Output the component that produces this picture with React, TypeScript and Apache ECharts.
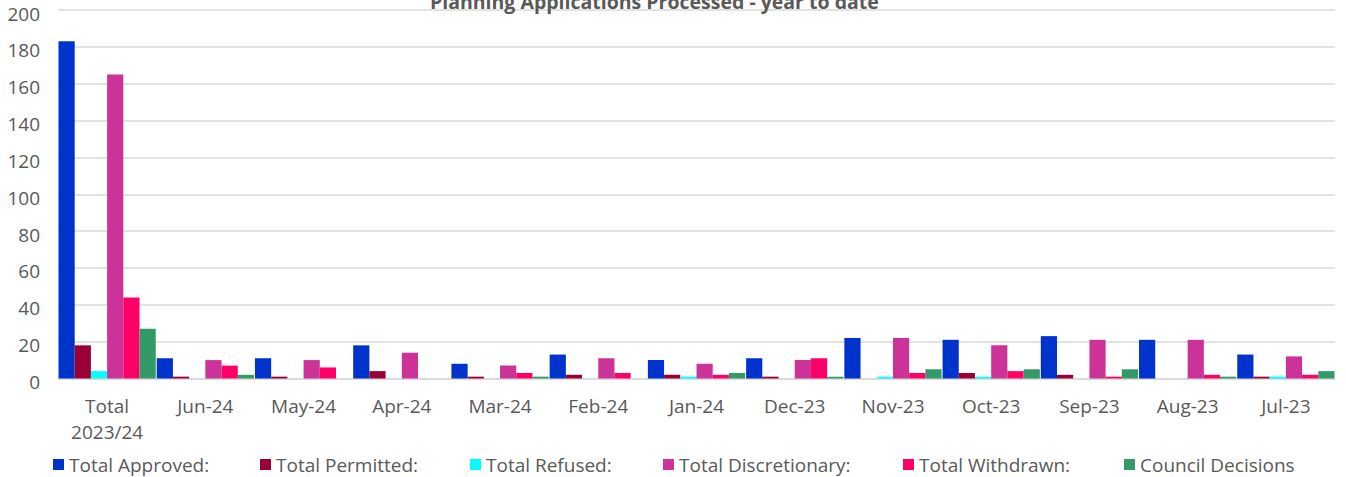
import React, { useEffect, useRef } from "react";
import * as echarts from "echarts";

const categories = ["Total\n2023/24", "Jun-24", "May-24", "Apr-24", "Mar-24", "Feb-24", "Jan-24", "Dec-23", "Nov-23", "Oct-23", "Sep-23", "Aug-23", "Jul-23"];
const approved = [183, 11, 11, 18, 8, 13, 10, 11, 22, 21, 23, 21, 13];
const permitted = [18, 1, 1, 4, 1, 2, 2, 1, 0, 3, 2, 0, 1];
const refused = [4, 0, 0, 0, 0, 0, 1, 0, 1, 1, 0, 0, 1];
const discretionary = [165, 10, 10, 14, 7, 11, 8, 10, 22, 18, 21, 21, 12];
const withdrawn = [44, 7, 6, 0, 3, 3, 2, 11, 3, 4, 1, 2, 2];
const council = [27, 2, 0, 0, 1, 0, 3, 1, 5, 5, 5, 1, 4];

const seriesNames = ["Total Approved:", "Total Permitted:", "Total Refused:", "Total Discretionary:", "Total Withdrawn:", "Council Decisions"];
const seriesData = [approved, permitted, refused, discretionary, withdrawn, council];
const colors = ["#0033CC", "#990033", "#00FFFF", "#CC3399", "#FF0066", "#339966"];
const legendLefts = [53, 260, 470, 663, 903, 1124];

const FONT = "'Open Sans', sans-serif";
const TEXT = "#595959";

export default function App() {
  const ref = useRef<HTMLDivElement>(null);
  useEffect(() => {
    document.body.style.margin = "0";
    if (!ref.current) return;
    const chart = echarts.init(ref.current, null, { renderer: "svg" });
    chart.setOption({
      animation: false,
      title: {
        text: "Planning Applications Processed - year to date",
        left: 425,
        top: -14,
        textStyle: { fontFamily: FONT, fontSize: 19.5, fontWeight: "bold", color: TEXT },
      },
      legend: seriesNames.map((n, i) => ({
        data: [n],
        left: legendLefts[i],
        top: 455,
        padding: 0,
        itemWidth: 11,
        itemHeight: 11,
        icon: "rect",
        textStyle: { fontFamily: FONT, fontSize: 19, color: TEXT },
        selectedMode: false,
      })),
      grid: { left: 58, right: 11, top: 10, bottom: 98.5, containLabel: false },
      xAxis: {
        type: "category",
        data: categories,
        axisLine: { lineStyle: { color: "#d9d9d9", width: 1.5 } },
        axisTick: { show: false },
        axisLabel: { fontFamily: FONT, fontSize: 19, color: TEXT, margin: 14, lineHeight: 26, interval: 0 },
      },
      yAxis: {
        type: "value",
        min: 0,
        max: 200,
        interval: 20,
        axisLine: { show: false },
        axisTick: { show: false },
        axisLabel: { fontFamily: FONT, fontSize: 19, color: TEXT, margin: 18, verticalAlign: "top", lineHeight: 7 },
        splitLine: { lineStyle: { color: "#d9d9d9", width: 1.5 } },
      },
      series: seriesNames.map((n, i) => ({
        name: n,
        type: "bar",
        data: seriesData[i],
        itemStyle: { color: colors[i] },
        barGap: "0%",
        barCategoryGap: "1%",
      })),
    });
    return () => chart.dispose();
  }, []);
  return <div ref={ref} style={{ width: 1346, height: 477 }} />;
}
